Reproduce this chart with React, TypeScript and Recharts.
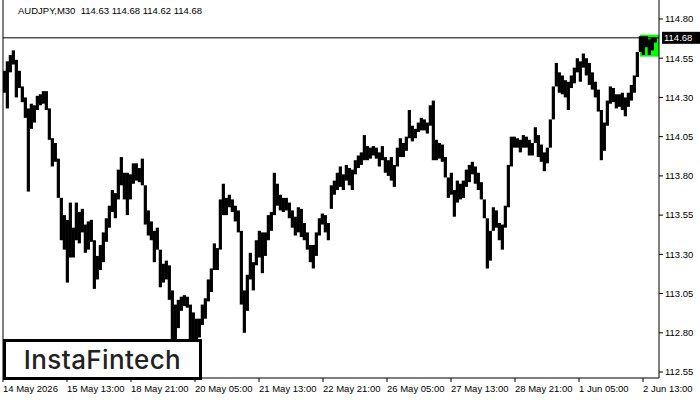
import React from 'react';
import { BarChart, Bar, XAxis, YAxis, ReferenceLine, ReferenceArea } from 'recharts';

const symbolTitle = 'AUDJPY,M30';
const ohlcValues = [114.63, 114.68, 114.62, 114.68];
const lastPrice = 114.68;
const brandName = 'InstaFintech';

// x axis: position in M30 bars from the left edge of the window
const xTickBars = [0, 64, 128, 192, 256, 320, 384, 448, 512, 576, 640];
const xTickLabels = [
  '14 May 2026', '15 May 13:00', '18 May 21:00', '20 May 05:00', '21 May 13:00',
  '22 May 21:00', '26 May 05:00', '27 May 13:00', '28 May 21:00', '1 Jun 05:00', '2 Jun 13:00',
];
const yTicks = [112.55, 112.8, 113.05, 113.3, 113.55, 113.8, 114.05, 114.3, 114.55, 114.8];
const priceDomain = [112.512, 114.921];
const barDomain = [0, 656];
const barsPerGroup = 3;

// highs / lows of consecutive groups of 3 M30 bars
const highs = [
  114.47, 114.53, 114.57, 114.60, 114.54, 114.47, 114.37, 114.30, 114.23, 114.26,
  114.25, 114.31, 114.32, 114.34, 114.34, 114.23, 114.04, 114.01, 113.91, 113.66,
  113.55, 113.52, 113.63, 113.47, 113.63, 113.57, 113.59, 113.49, 113.51, 113.52,
  113.39, 113.29, 113.36, 113.44, 113.53, 113.61, 113.71, 113.69, 113.84, 113.92,
  113.82, 113.82, 113.81, 113.88, 113.88, 113.85, 113.91, 113.74, 113.58, 113.51,
  113.45, 113.47, 113.33, 113.24, 113.26, 113.23, 113.07, 112.98, 113.01, 113.03,
  113.04, 113.03, 112.98, 112.93, 112.89, 112.89, 112.98, 113.02, 113.14, 113.21,
  113.37, 113.34, 113.65, 113.75, 113.66, 113.68, 113.65, 113.61, 113.58, 113.45,
  113.07, 113.17, 113.31, 113.25, 113.39, 113.45, 113.44, 113.44, 113.55, 113.57,
  113.82, 113.75, 113.68, 113.66, 113.66, 113.63, 113.58, 113.54, 113.60, 113.59,
  113.50, 113.44, 113.36, 113.36, 113.44, 113.53, 113.56, 113.55, 113.50, 113.74,
  113.77, 113.82, 113.86, 113.81, 113.87, 113.85, 113.84, 113.90, 113.93, 113.95,
  114.06, 113.99, 113.98, 113.99, 113.98, 113.95, 113.99, 113.92, 113.90, 113.92,
  113.87, 113.98, 114.04, 114.01, 114.05, 114.22, 114.12, 114.10, 114.14, 114.17,
  114.16, 114.14, 114.25, 114.28, 114.03, 114.01, 114.00, 113.92, 113.79, 113.82,
  113.71, 113.77, 113.75, 113.77, 113.84, 113.87, 113.89, 113.86, 113.82, 113.76,
  113.65, 113.53, 113.45, 113.60, 113.58, 113.50, 113.49, 113.61, 113.87, 114.05,
  114.05, 114.04, 114.03, 114.06, 114.05, 114.03, 114.01, 114.11, 114.06, 114.00,
  113.95, 113.98, 114.16, 114.37, 114.52, 114.46, 114.44, 114.41, 114.40, 114.44,
  114.49, 114.55, 114.53, 114.58, 114.55, 114.52, 114.46, 114.40, 114.35, 114.22,
  114.14, 114.28, 114.37, 114.36, 114.32, 114.32, 114.33, 114.30, 114.33, 114.38,
  114.44, 114.59, 114.69, 114.69, 114.69, 114.67, 114.68, 114.68,
];
const lows = [
  114.33, 114.23, 114.46, 114.51, 114.30, 114.36, 114.27, 114.17, 113.70, 114.10,
  114.14, 114.22, 114.25, 114.26, 114.22, 114.03, 113.86, 113.89, 113.66, 113.39,
  113.33, 113.12, 113.28, 113.28, 113.39, 113.37, 113.44, 113.31, 113.33, 113.38,
  113.08, 113.14, 113.20, 113.25, 113.38, 113.47, 113.57, 113.53, 113.65, 113.74,
  113.65, 113.55, 113.65, 113.75, 113.77, 113.76, 113.74, 113.49, 113.42, 113.39,
  113.25, 113.33, 113.09, 113.12, 113.14, 113.01, 112.72, 112.72, 112.83, 112.94,
  112.97, 112.96, 112.72, 112.72, 112.74, 112.77, 112.85, 112.89, 113.00, 113.06,
  113.20, 113.20, 113.33, 113.55, 113.55, 113.60, 113.57, 113.51, 113.44, 112.98,
  112.80, 112.94, 113.14, 113.07, 113.23, 113.28, 113.18, 113.29, 113.39, 113.45,
  113.55, 113.61, 113.58, 113.57, 113.58, 113.53, 113.47, 113.42, 113.44, 113.41,
  113.39, 113.33, 113.25, 113.21, 113.29, 113.42, 113.49, 113.44, 113.39, 113.59,
  113.68, 113.71, 113.73, 113.71, 113.77, 113.74, 113.71, 113.81, 113.85, 113.87,
  113.90, 113.90, 113.91, 113.93, 113.91, 113.86, 113.90, 113.82, 113.80, 113.77,
  113.73, 113.86, 113.92, 113.92, 113.96, 114.04, 114.02, 114.04, 114.08, 114.09,
  114.09, 114.07, 114.12, 113.90, 113.90, 113.91, 113.89, 113.79, 113.66, 113.68,
  113.54, 113.63, 113.65, 113.66, 113.73, 113.76, 113.81, 113.75, 113.71, 113.65,
  113.53, 113.21, 113.26, 113.45, 113.47, 113.39, 113.33, 113.47, 113.60, 113.86,
  113.98, 113.98, 113.95, 113.98, 113.98, 113.93, 113.93, 114.01, 113.92, 113.89,
  113.83, 113.88, 113.98, 114.16, 114.37, 114.33, 114.32, 114.30, 114.22, 114.36,
  114.39, 114.46, 114.40, 114.49, 114.44, 114.38, 114.35, 114.30, 114.21, 113.90,
  113.96, 114.12, 114.26, 114.27, 114.23, 114.24, 114.22, 114.18, 114.24, 114.28,
  114.33, 114.43, 114.59, 114.57, 114.62, 114.57, 114.60, 114.65,
];

// highlighted pattern zone (bars, prices)
const zoneFromBar = 637;
const zoneToBar = 656;
const zoneLow = 114.56;
const zoneHigh = 114.70;

const data = highs.map((h, i) => ({
  t: i * barsPerGroup + barsPerGroup / 2,
  range: [lows[i], h],
}));

const FONT = '"Liberation Sans", Arial, sans-serif';

const XTick = (props: any) => {
  const { x, y, payload } = props;
  const idx = xTickBars.indexOf(payload.value);
  return (
    <text x={x} y={y} dy={8} textAnchor="start" fontSize={9.5} fontFamily={FONT} fill="#000">
      {idx >= 0 ? xTickLabels[idx] : ''}
    </text>
  );
};

const PriceTag = (props: any) => {
  const vb = props.viewBox || {};
  const right = (vb.x || 0) + (vb.width || 0);
  const y = vb.y || 0;
  return (
    <g>
      <rect x={right + 3} y={y - 6} width={38} height={12} fill="#000" />
      <text x={right + 5} y={y} dy={3.5} fontSize={9.5} fontFamily={FONT} fill="#fff">
        {lastPrice.toFixed(2)}
      </text>
    </g>
  );
};

// draws each high-low range as a solid column filling its whole 3-bar slot
const RangeShape = (props: any) => {
  const { x, y, width, height } = props;
  if (x == null || y == null) return null;
  const cx = x + width / 2;
  const w = 3.2;
  const top = Math.min(y, y + height);
  const h = Math.max(Math.abs(height), 1);
  return <rect x={cx - w / 2} y={top} width={w} height={h} fill="#000" />;
};

export default function App() {
  return (
    <div style={{ position: 'absolute', left: 0, top: 0, width: 700, height: 400, background: '#fff', overflow: 'hidden' }}>
      <BarChart
        width={700}
        height={400}
        data={data}
        margin={{ top: 0, right: 0, bottom: 0, left: 0 }}
        barCategoryGap={0}
        barGap={0}
      >
        <XAxis
          dataKey="t"
          type="number"
          domain={barDomain}
          ticks={xTickBars}
          allowDataOverflow
          height={22}
          tickSize={4}
          tickMargin={2}
          interval={0}
          stroke="#000"
          axisLine={{ stroke: '#000' }}
          tickLine={{ stroke: '#000' }}
          tick={<XTick />}
        />
        <YAxis
          yAxisId="frame"
          orientation="left"
          width={3}
          domain={priceDomain}
          tick={false}
          tickLine={false}
          axisLine={{ stroke: '#000' }}
        />
        <YAxis
          yAxisId="price"
          orientation="right"
          width={41}
          domain={priceDomain}
          ticks={yTicks}
          interval={0}
          allowDataOverflow
          tickSize={4}
          tickMargin={2}
          axisLine={{ stroke: '#000' }}
          tickLine={{ stroke: '#000' }}
          tick={{ fill: '#000', fontSize: 9.5, fontFamily: FONT, textAnchor: 'start' }}
          tickFormatter={(v: number) => v.toFixed(2)}
        />
        <ReferenceArea
          yAxisId="price"
          x1={zoneFromBar}
          x2={zoneToBar}
          y1={zoneLow}
          y2={zoneHigh}
          fill="#00ff00"
          fillOpacity={1}
          stroke="none"
          ifOverflow="hidden"
        />
        <ReferenceLine
          yAxisId="price"
          y={lastPrice}
          stroke="#000"
          strokeWidth={1}
          label={{ content: PriceTag }}
        />
        <Bar yAxisId="price" dataKey="range" fill="#000" barSize={3} shape={<RangeShape />} isAnimationActive={false} />
      </BarChart>
      <div
        style={{
          position: 'absolute', left: 18, top: 5, fontFamily: FONT, fontSize: 9.5,
          lineHeight: '12px', color: '#000', whiteSpace: 'pre',
        }}
      >
        {`${symbolTitle}  ${ohlcValues.map((v) => v.toFixed(2)).join(' ')}`}
      </div>
      <div
        style={{
          position: 'absolute', left: 3, top: 339, width: 199, height: 41, boxSizing: 'border-box',
          border: '3px solid #000', background: '#fff', display: 'flex', alignItems: 'center',
          justifyContent: 'center', fontFamily: 'Inter, sans-serif', fontWeight: 500, fontSize: 26,
          color: '#222', letterSpacing: 0.4,
        }}
      >
        {brandName}
      </div>
    </div>
  );
}
